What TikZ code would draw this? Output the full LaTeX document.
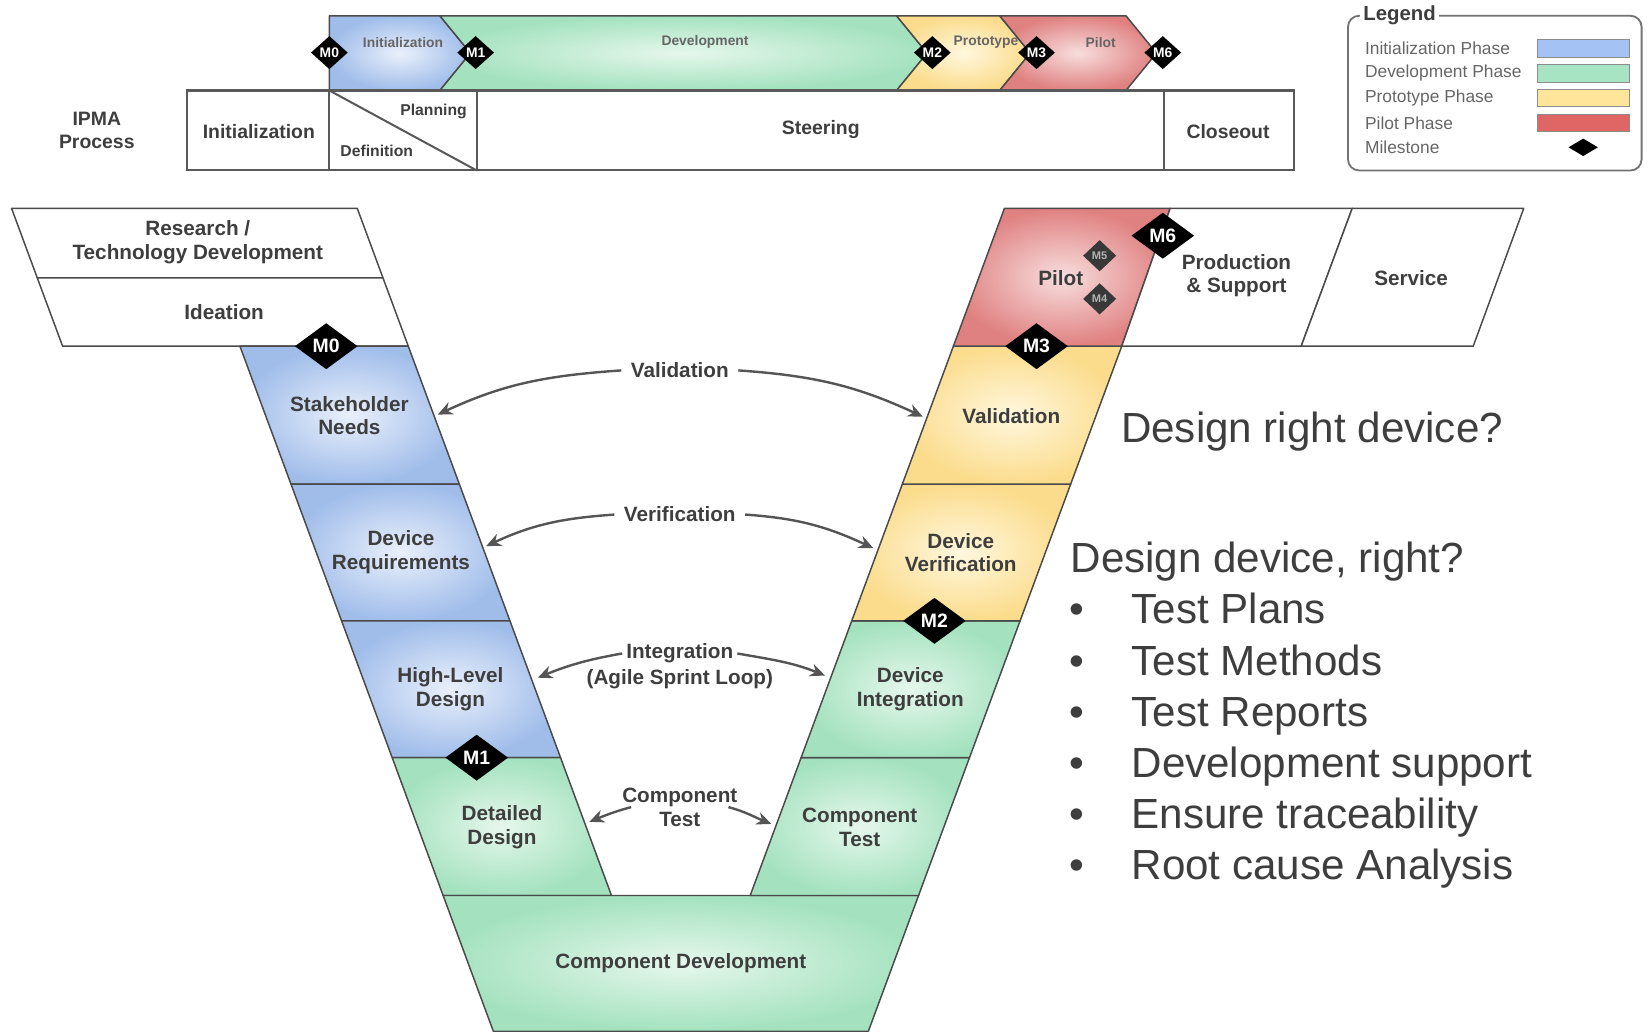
\documentclass[tikz,border=0pt]{standalone}
\usepackage{fontspec}
\setmainfont{Liberation Sans}
\usetikzlibrary{shapes.geometric,arrows.meta}

\definecolor{ink}{HTML}{3E3E3E}
\definecolor{edge}{HTML}{4A4A4A}
\definecolor{flowgray}{HTML}{555555}
\definecolor{initblue}{HTML}{A4C2F4}
\definecolor{devgreen}{HTML}{A6E4C3}
\definecolor{protoyellow}{HTML}{FFE599}
\definecolor{pilotred}{HTML}{E06666}
\definecolor{blueout}{HTML}{A0BDEA}
\definecolor{bluein}{HTML}{EAF0FB}
\definecolor{greenout}{HTML}{A4E2BF}
\definecolor{greenin}{HTML}{E6F7EC}
\definecolor{yellowout}{HTML}{FBDC8C}
\definecolor{yellowin}{HTML}{FFF7DE}
\definecolor{redout}{HTML}{E08181}
\definecolor{redin}{HTML}{F8DEDE}

\begin{document}
\begin{tikzpicture}[x=0.02cm, y=0.02cm,
  cell/.style={draw=edge, line width=0.8pt, line join=round},
  bluecell/.style={cell, inner color=bluein, outer color=blueout},
  greencell/.style={cell, inner color=greenin, outer color=greenout},
  yellowcell/.style={cell, inner color=yellowin, outer color=yellowout},
  redcell/.style={cell, inner color=redin, outer color=redout},
  whitecell/.style={cell, fill=white},
  proc/.style={draw=black!65, line width=1.1pt},
  lab/.style={align=center, text=ink, font=\fontsize{11.2}{12.8}\selectfont\bfseries},
  flowlab/.style={lab, inner sep=5pt},
  bandlab/.style={text=black!60, font=\fontsize{7.5}{8}\selectfont\bfseries},
  proclab/.style={align=center, text=ink, font=\fontsize{10.5}{12}\selectfont\bfseries},
  smallproc/.style={text=ink, font=\fontsize{8.5}{9}\selectfont\bfseries},
  mile/.style={diamond, fill=black, text=white, inner sep=0pt,
    minimum width=34pt, minimum height=25pt, font=\fontsize{10.5}{11}\selectfont\bfseries},
  bandmile/.style={mile, minimum width=20pt, minimum height=18pt,
    font=\fontsize{7.5}{8}\selectfont\bfseries},
  submile/.style={mile, fill=black!78, text=black!30, minimum width=18pt,
    minimum height=17pt, font=\fontsize{6}{6}\selectfont\bfseries},
  flow/.style={draw=flowgray, line width=1.3pt, -{Stealth[length=8pt,width=7pt]}},
  legtext/.style={anchor=west, text=black!60, font=\fontsize{9.4}{10}\selectfont},
  swatch/.style={draw=black!45, minimum width=50pt, minimum height=9.6pt, inner sep=0pt},
  big/.style={text=ink, inner sep=0pt, text height=0.75em, text depth=0.2em,
    font=\fontsize{22.8}{27}\selectfont}]

  \useasboundingbox (0,0) rectangle (1568,-982);

  % IPMA phases
  \path[bluecell] (313,-15) -- (418,-15) -- (447,-50.5) -- (418,-86) -- (313,-86) -- cycle;
  \path[greencell] (418,-15) -- (852,-15) -- (881,-50.5) -- (852,-86) -- (418,-86) -- (447,-50.5) -- cycle;
  \path[yellowcell] (852,-15) -- (950,-15) -- (979,-50.5) -- (950,-86) -- (852,-86) -- (881,-50.5) -- cycle;
  \path[redcell] (950,-15) -- (1070,-15) -- (1099,-50.5) -- (1070,-86) -- (950,-86) -- (979,-50.5) -- cycle;
  \node[bandlab] (bInit) at (383,-40) {Initialization};
  \node[bandlab] (bDev) at (670,-40) {Development};
  \node[bandlab] (bProto) at (937,-40) {Prototype};
  \node[bandlab] (bPilot) at (1046,-40) {Pilot};
  \foreach \m/\x in {0/313,1/452,2/886,3/985,6/1105}
    \node[bandmile] (bm\m) at (\x,-50) {M\m};

  % IPMA process row
  \draw[proc] (178,-86) rectangle (1230,-162);
  \draw[proc] (313,-86) -- (313,-162) (453,-86) -- (453,-162) (1106,-86) -- (1106,-162);
  \draw[proc] (313,-86) -- (453,-162);
  \node[proclab] (ipma) at (92,-124) {IPMA\\Process};
  \node[proclab] (pInit) at (246,-125) {Initialization};
  \node[smallproc] (pPlan) at (412,-106) {Planning};
  \node[smallproc] (pDef) at (358,-143) {Definition};
  \node[proclab] (pSteer) at (780,-123) {Steering};
  \node[proclab] (pClose) at (1167,-125) {Closeout};

  % legend
  \draw[draw=black!55, line width=1pt, rounded corners=6pt] (1281,-15) rectangle (1560,-162);
  \node[fill=white, inner sep=2pt, text=ink, font=\fontsize{11}{12}\selectfont\bfseries]
    (legTitle) at (1330,-15) {Legend};
  \foreach \name/\col [count=\i] in {Initialization Phase/initblue, Development Phase/devgreen,
      Prototype Phase/protoyellow, Pilot Phase/pilotred} {
    \node[legtext] (leg\i) at (1291,-22.3-23.6*\i) {\name};
    \node[swatch, fill=\col] (sw\i) at (1504.5,-22.3-23.6*\i) {};
  }
  \node[legtext] (leg5) at (1291,-140) {Milestone};
  \node[mile, minimum width=16pt, minimum height=9.6pt] (legM) at (1504.5,-140) {};

  % left side of the V
  \path[whitecell] (11,-198) -- (339.5,-198) -- (363.9,-264) -- (35.4,-264) -- cycle;
  \path[whitecell] (35.4,-264) -- (363.9,-264) -- (388,-329) -- (59.5,-329) -- cycle;
  \path[bluecell] (228,-329) -- (388,-329) -- (436.5,-460) -- (276.5,-460) -- cycle;
  \path[bluecell] (276.5,-460) -- (436.5,-460) -- (484.6,-590) -- (324.6,-590) -- cycle;
  \path[bluecell] (324.6,-590) -- (484.6,-590) -- (532.7,-720) -- (372.7,-720) -- cycle;
  \path[greencell] (372.7,-720) -- (532.7,-720) -- (581.1,-851) -- (421.1,-851) -- cycle;
  \path[greencell] (421.1,-851) -- (872.9,-851) -- (825.2,-980) -- (468.8,-980) -- cycle;

  % right side of the V
  \path[greencell] (712.9,-851) -- (872.9,-851) -- (921.3,-720) -- (761.3,-720) -- cycle;
  \path[greencell] (761.3,-720) -- (921.3,-720) -- (969.4,-590) -- (809.4,-590) -- cycle;
  \path[yellowcell] (809.4,-590) -- (969.4,-590) -- (1017.5,-460) -- (857.5,-460) -- cycle;
  \path[yellowcell] (857.5,-460) -- (1017.5,-460) -- (1066,-329) -- (906,-329) -- cycle;
  \path[redcell] (906,-329) -- (1066,-329) -- (1112,-198) -- (954.5,-198) -- cycle;
  \path[whitecell] (1066,-329) -- (1236.5,-329) -- (1285,-198) -- (1112,-198) -- cycle;
  \path[whitecell] (1236.5,-329) -- (1400,-329) -- (1448,-198) -- (1285,-198) -- cycle;

  \node[lab] (research) at (188,-230) {Research /\\Technology Development};
  \node[lab] (ideation) at (213,-297) {Ideation};
  \node[lab] (stake) at (332,-395) {Stakeholder\\Needs};
  \node[lab] (devReq) at (381,-525) {Device\\Requirements};
  \node[lab] (hld) at (428,-655) {High-Level\\Design};
  \node[lab] (detail) at (477,-786) {Detailed\\Design};
  \node[lab] (compDev) at (647,-915) {Component Development};
  \node[lab] (compTest) at (817,-786) {Component\\Test};
  \node[lab] (devInt) at (865,-655) {Device\\Integration};
  \node[lab] (devVer) at (913,-525) {Device\\Verification};
  \node[lab] (valid) at (961,-395) {Validation};
  \node[lab] (pilot) at (1008,-264) {Pilot};
  \node[lab] (prod) at (1175,-262) {Production\\\& Support};
  \node[lab] (service) at (1341,-264) {Service};

  \node[mile] (m0) at (310,-329) {M0};
  \node[mile] (m1) at (453,-720) {M1};
  \node[mile] (m2) at (888,-590) {M2};
  \node[mile] (m3) at (985,-329) {M3};
  \node[mile] (m6) at (1105,-224) {M6};
  \node[submile] (m5) at (1045,-243) {M5};
  \node[submile] (m4) at (1045,-284) {M4};

  % test links across the V
  \node[flowlab] (valLab) at (646,-352) {Validation};
  \node[flowlab] (verLab) at (646,-489) {Verification};
  \node[lab, inner sep=2pt] (intLab) at (646,-621) {Integration};
  \node[lab, inner sep=2pt] (agileLab) at (646,-645) {(Agile Sprint Loop)};
  \node[lab, inner sep=0pt] (ctLab) at (646,-767) {Component\\Test};

  \coordinate (stakeR) at (416,-394);
  \coordinate (validL) at (877,-396);
  \coordinate (devReqR) at (462,-519);
  \coordinate (devVerL) at (830,-521);
  \coordinate (hldR) at (511,-644);
  \coordinate (devIntL) at (784,-642);
  \coordinate (detailR) at (560,-781);
  \coordinate (compTestL) at (733,-783);

  \draw[flow] (valLab.west) to[out=184,in=25] (stakeR);
  \draw[flow] (valLab.east) to[out=-4,in=155] (validL);
  \draw[flow] (verLab.west) to[out=184,in=25] (devReqR);
  \draw[flow] (verLab.east) to[out=-4,in=155] (devVerL);
  \draw[flow] (intLab.west) to[out=190,in=22] (hldR);
  \draw[flow] (intLab.east) to[out=-10,in=158] (devIntL);
  \draw[flow] ([xshift=5pt]ctLab.west) to[out=195,in=22] (detailR);
  \draw[flow] ([xshift=-5pt]ctLab.east) to[out=-15,in=158] (compTestL);

  % notes
  \node[big, anchor=west] (q1) at (1065,-415.5) {Design right device?};
  \node[big, anchor=west] (q2) at (1017,-539.5) {Design device, right?};
  \foreach \t [count=\i] in {Test Plans, Test Methods, Test Reports,
      Development support, Ensure traceability, Root cause Analysis} {
    \node[big] (dot\i) at (1023,-539.5-48.6*\i) {•};
    \node[big, anchor=west] (item\i) at (1075,-539.5-48.6*\i) {\t};
  }
\end{tikzpicture}
\end{document}
